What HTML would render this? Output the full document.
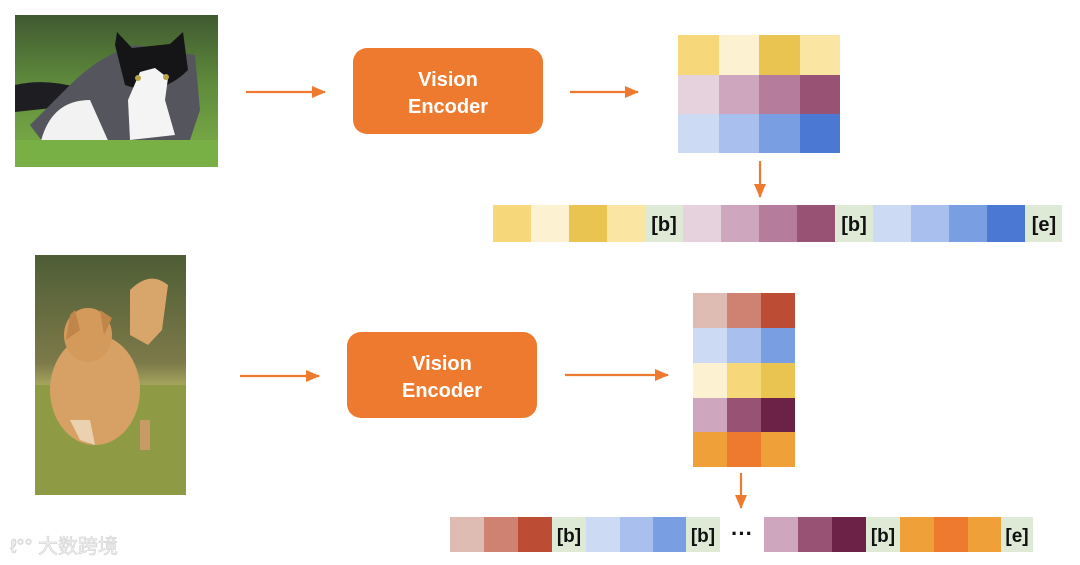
<!DOCTYPE html>
<html><head><meta charset="utf-8"><style>
html,body{margin:0;padding:0;background:#fff;width:1080px;height:565px;overflow:hidden}
svg{display:block}
text{font-family:"Liberation Sans",sans-serif}
</style></head><body>
<svg width="1080" height="565" viewBox="0 0 1080 565" xmlns="http://www.w3.org/2000/svg">
<defs>
<linearGradient id="catbg" x1="0" y1="0" x2="0" y2="1">
<stop offset="0" stop-color="#3f5a30"/><stop offset="0.45" stop-color="#5f8a3c"/><stop offset="1" stop-color="#7fb24a"/></linearGradient>
<linearGradient id="dogbg" x1="0" y1="0" x2="0" y2="1">
<stop offset="0" stop-color="#4e5d35"/><stop offset="0.45" stop-color="#7d7a4a"/><stop offset="0.55" stop-color="#a9a85e"/><stop offset="1" stop-color="#8a9a45"/></linearGradient>
<marker id="ah" markerWidth="14" markerHeight="12" refX="13" refY="6" orient="auto" markerUnits="userSpaceOnUse">
<path d="M0,0 L14,6 L0,12 z" fill="#ee7a30"/></marker>
</defs>
<!-- cat photo -->
<rect x="15" y="15" width="203" height="152" fill="url(#catbg)"/>
<path d="M15,85 Q45,78 80,88 L85,105 Q50,108 15,112 z" fill="#1e1e22"/>
<path d="M70,85 Q100,55 135,45 L195,55 L200,110 L190,140 L45,145 L30,125 z" fill="#55565d"/>
<path d="M40,145 Q50,100 90,100 L110,145 z" fill="#f2f2f2"/>
<path d="M115,45 L117,32 L132,48 L170,44 L183,32 L188,70 Q160,98 125,85 z" fill="#151518"/>
<path d="M140,72 L155,68 L168,78 L165,100 L175,135 L130,140 L128,100 z" fill="#f4f4f4"/>
<circle cx="138" cy="78" r="3" fill="#b9a44a"/><circle cx="166" cy="77" r="3" fill="#b9a44a"/>
<rect x="15" y="140" width="203" height="27" fill="#78b046"/>
<!-- dog photo -->
<rect x="35" y="255" width="151" height="240" fill="url(#dogbg)"/>
<rect x="35" y="385" width="151" height="110" fill="#8e9b44"/>
<path d="M130,290 Q150,270 168,285 L162,330 L148,345 L130,335 z" fill="#d8a56a"/>
<ellipse cx="95" cy="390" rx="45" ry="55" fill="#d7a165"/>
<ellipse cx="88" cy="335" rx="24" ry="27" fill="#d39a5c"/>
<path d="M70,315 L75,310 L80,330 L66,340 z" fill="#c08548"/>
<path d="M100,310 L112,318 L104,335 z" fill="#c08548"/>
<path d="M70,420 L80,440 L95,445 L90,420 z" fill="#ead2b0"/>
<rect x="140" y="420" width="10" height="30" fill="#c89a66"/>
<!-- arrows -->
<g stroke="#ee7a30" stroke-width="2.2" fill="none" marker-end="url(#ah)">
<line x1="246" y1="92" x2="325" y2="92"/>
<line x1="570" y1="92" x2="638" y2="92"/>
<line x1="760" y1="161" x2="760" y2="197"/>
<line x1="240" y1="376" x2="319" y2="376"/>
<line x1="565" y1="375" x2="668" y2="375"/>
<line x1="741" y1="473" x2="741" y2="508"/>
</g>
<!-- encoders -->
<rect x="353" y="48" width="190" height="86" rx="14" fill="#ee7a30"/>
<text x="448" y="86" text-anchor="middle" font-size="20" font-weight="bold" fill="#fff">Vision</text>
<text x="448" y="113" text-anchor="middle" font-size="20" font-weight="bold" fill="#fff">Encoder</text>
<rect x="347" y="332" width="190" height="86" rx="14" fill="#ee7a30"/>
<text x="442" y="370" text-anchor="middle" font-size="20" font-weight="bold" fill="#fff">Vision</text>
<text x="442" y="397" text-anchor="middle" font-size="20" font-weight="bold" fill="#fff">Encoder</text>
<!-- top grid -->
<rect x="678" y="35" width="41" height="40" fill="#f6d87a"/><rect x="719" y="35" width="40" height="40" fill="#fcf1d0"/><rect x="759" y="35" width="41" height="40" fill="#e9c451"/><rect x="800" y="35" width="40" height="40" fill="#fae6a2"/>
<rect x="678" y="75" width="41" height="39" fill="#e6d2dc"/><rect x="719" y="75" width="40" height="39" fill="#cea7bf"/><rect x="759" y="75" width="41" height="39" fill="#b57c9c"/><rect x="800" y="75" width="40" height="39" fill="#985274"/>
<rect x="678" y="114" width="41" height="39" fill="#ccdaf3"/><rect x="719" y="114" width="40" height="39" fill="#a9c0ee"/><rect x="759" y="114" width="41" height="39" fill="#7a9ee2"/><rect x="800" y="114" width="40" height="39" fill="#4a78d2"/>
<!-- top strip -->
<rect x="493" y="205" width="38" height="37" fill="#f6d87a"/><rect x="531" y="205" width="38" height="37" fill="#fcf1d0"/><rect x="569" y="205" width="38" height="37" fill="#e9c451"/><rect x="607" y="205" width="38" height="37" fill="#fae6a2"/>
<rect x="645" y="205" width="38" height="37" fill="#dfead6"/>
<rect x="683" y="205" width="38" height="37" fill="#e6d2dc"/><rect x="721" y="205" width="38" height="37" fill="#cea7bf"/><rect x="759" y="205" width="38" height="37" fill="#b57c9c"/><rect x="797" y="205" width="38" height="37" fill="#985274"/>
<rect x="835" y="205" width="38" height="37" fill="#dfead6"/>
<rect x="873" y="205" width="38" height="37" fill="#ccdaf3"/><rect x="911" y="205" width="38" height="37" fill="#a9c0ee"/><rect x="949" y="205" width="38" height="37" fill="#7a9ee2"/><rect x="987" y="205" width="38" height="37" fill="#4a78d2"/>
<rect x="1025" y="205" width="37" height="37" fill="#dfead6"/>
<text x="664" y="231" text-anchor="middle" font-size="20" font-weight="bold" fill="#111">[b]</text>
<text x="854" y="231" text-anchor="middle" font-size="20" font-weight="bold" fill="#111">[b]</text>
<text x="1044" y="231" text-anchor="middle" font-size="20" font-weight="bold" fill="#111">[e]</text>
<!-- bottom grid -->
<rect x="693" y="293" width="34" height="35" fill="#dfbcb3"/><rect x="727" y="293" width="34" height="35" fill="#d08272"/><rect x="761" y="293" width="34" height="35" fill="#bc4c34"/>
<rect x="693" y="328" width="34" height="35" fill="#ccdaf3"/><rect x="727" y="328" width="34" height="35" fill="#a9c0ee"/><rect x="761" y="328" width="34" height="35" fill="#7a9ee2"/>
<rect x="693" y="363" width="34" height="35" fill="#fcf1d0"/><rect x="727" y="363" width="34" height="35" fill="#f6d87a"/><rect x="761" y="363" width="34" height="35" fill="#e9c451"/>
<rect x="693" y="398" width="34" height="34" fill="#cea7bf"/><rect x="727" y="398" width="34" height="34" fill="#985274"/><rect x="761" y="398" width="34" height="34" fill="#6c2246"/>
<rect x="693" y="432" width="34" height="35" fill="#f0a038"/><rect x="727" y="432" width="34" height="35" fill="#ee7a30"/><rect x="761" y="432" width="34" height="35" fill="#f0a038"/>
<!-- bottom strip -->
<rect x="450" y="517" width="34" height="35" fill="#dfbcb3"/><rect x="484" y="517" width="34" height="35" fill="#d08272"/><rect x="518" y="517" width="34" height="35" fill="#bc4c34"/>
<rect x="552" y="517" width="34" height="35" fill="#dfead6"/>
<rect x="586" y="517" width="34" height="35" fill="#ccdaf3"/><rect x="620" y="517" width="33" height="35" fill="#a9c0ee"/><rect x="653" y="517" width="33" height="35" fill="#7a9ee2"/>
<rect x="686" y="517" width="34" height="35" fill="#dfead6"/>
<rect x="764" y="517" width="34" height="35" fill="#cea7bf"/><rect x="798" y="517" width="34" height="35" fill="#985274"/><rect x="832" y="517" width="34" height="35" fill="#6c2246"/>
<rect x="866" y="517" width="34" height="35" fill="#dfead6"/>
<rect x="900" y="517" width="34" height="35" fill="#f0a038"/><rect x="934" y="517" width="34" height="35" fill="#ee7a30"/><rect x="968" y="517" width="33" height="35" fill="#f0a038"/>
<rect x="1001" y="517" width="32" height="35" fill="#dfead6"/>
<text x="569" y="542" text-anchor="middle" font-size="19" font-weight="bold" fill="#111">[b]</text>
<text x="703" y="542" text-anchor="middle" font-size="19" font-weight="bold" fill="#111">[b]</text>
<text x="742" y="541" text-anchor="middle" font-size="22" font-weight="bold" fill="#111">···</text>
<text x="883" y="542" text-anchor="middle" font-size="19" font-weight="bold" fill="#111">[b]</text>
<text x="1017" y="542" text-anchor="middle" font-size="19" font-weight="bold" fill="#111">[e]</text>
<!-- watermark -->
<text x="10" y="553" font-size="20" fill="#f2f2f2" stroke="#d6d6d6" stroke-width="0.7" font-family="Liberation Sans,'Noto Sans CJK SC',sans-serif">ℓ°° 大数跨境</text>
</svg>
</body></html>
